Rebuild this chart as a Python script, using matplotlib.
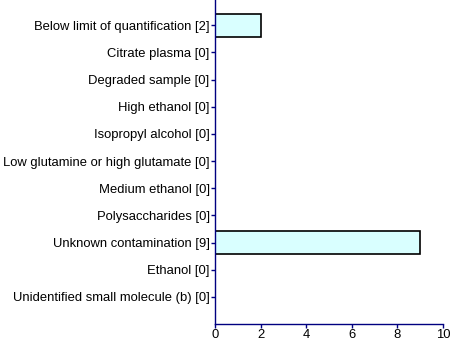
import matplotlib
matplotlib.use("Agg")
import matplotlib.pyplot as plt

categories = [
    "Below limit of quantification [2]",
    "Citrate plasma [0]",
    "Degraded sample [0]",
    "High ethanol [0]",
    "Isopropyl alcohol [0]",
    "Low glutamine or high glutamate [0]",
    "Medium ethanol [0]",
    "Polysaccharides [0]",
    "Unknown contamination [9]",
    "Ethanol [0]",
    "Unidentified small molecule (b) [0]",
]
counts = [2, 0, 0, 0, 0, 0, 0, 0, 9, 0, 0]

NAVY = "#000080"
BAR = "#d9ffff"

plt.rcParams["font.family"] = ["Liberation Sans", "DejaVu Sans"]

fig = plt.figure(figsize=(4.5, 3.42), dpi=100)
ax = fig.add_axes([0.478, 0.0526, 0.506, 0.9474])

ypos = list(range(len(categories)))
ax.barh(ypos, counts, height=0.85, color=BAR, edgecolor="black", linewidth=1.2)

ax.set_yticks(ypos)
ax.set_yticklabels(categories, fontsize=9.4)
ax.set_ylim(11.0, -0.93)
ax.set_xlim(0, 10)
ax.set_xticks([0, 2, 4, 6, 8, 10])
ax.tick_params(axis="x", labelsize=9.4, colors="black", color=NAVY, length=3, width=1, pad=0.5)
ax.tick_params(axis="y", color=NAVY, length=3, width=1, pad=1)

for s in ["top", "right"]:
    ax.spines[s].set_visible(False)
for s in ["left", "bottom"]:
    ax.spines[s].set_color(NAVY)
    ax.spines[s].set_linewidth(1)

fig.savefig("out.png", dpi=100)
